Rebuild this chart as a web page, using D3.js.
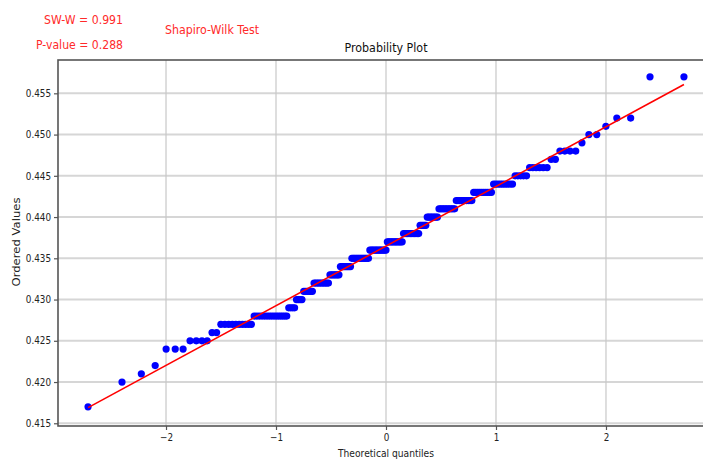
<!DOCTYPE html>
<html><head><meta charset="utf-8">
<script src="https://cdn.jsdelivr.net/npm/d3@7"></script>
<style>
body{margin:0;background:#fff}
svg{display:block}
text{font-family:"DejaVu Sans",sans-serif}
</style>
</head><body>
<svg id="c" width="703" height="460"></svg>
<script>
// ---- data ----
const levels = [0.417,0.420,0.421,0.422,0.424,0.425,0.426,0.427,0.428,0.429,0.430,0.431,0.432,0.433,0.434,0.435,0.436,0.437,0.438,0.439,0.440,0.441,0.442,0.443,0.444,0.445,0.446,0.447,0.448,0.449,0.450,0.451,0.452,0.457];
const counts = [1,1,1,1,3,4,2,10,15,4,4,6,10,7,8,13,13,12,12,5,8,11,10,10,9,5,6,2,4,1,2,1,2,2];
const xTicks = [-2,-1,0,1,2];
const yTicks = [0.415,0.420,0.425,0.430,0.435,0.440,0.445,0.450,0.455];
const statLines = ["SW-W = 0.991","P-value = 0.288"];
const testName = "Shapiro-Wilk Test";
const titleText = "Probability Plot";
const xLabel = "Theoretical quantiles";
const yLabel = "Ordered Values";

// ---- ordered values ----
const ordered = [];
levels.forEach((v,i)=>{ for(let k=0;k<counts[i];k++) ordered.push(v); });
const n = ordered.length;

// inverse normal CDF (Acklam)
function norminv(p){
  const a=[-3.969683028665376e+01,2.209460984245205e+02,-2.759285104469687e+02,1.383577518672690e+02,-3.066479806614716e+01,2.506628277459239e+00];
  const b=[-5.447609879822406e+01,1.615858368580409e+02,-1.556989798598866e+02,6.680131188771972e+01,-1.328068155288572e+01];
  const c=[-7.784894002430293e-03,-3.223964580411365e-01,-2.400758277161838e+00,-2.549671010482305e+00,4.374664141464968e+00,2.938163982698783e+00];
  const d=[7.784695709041462e-03,3.224671290700398e-01,2.445134137142996e+00,3.754408661907416e+00];
  const pl=0.02425;
  let q,r;
  if(p<pl){q=Math.sqrt(-2*Math.log(p));return (((((c[0]*q+c[1])*q+c[2])*q+c[3])*q+c[4])*q+c[5])/((((d[0]*q+d[1])*q+d[2])*q+d[3])*q+1);}
  if(p>1-pl){q=Math.sqrt(-2*Math.log(1-p));return -(((((c[0]*q+c[1])*q+c[2])*q+c[3])*q+c[4])*q+c[5])/((((d[0]*q+d[1])*q+d[2])*q+d[3])*q+1);}
  q=p-0.5;r=q*q;
  return (((((a[0]*r+a[1])*r+a[2])*r+a[3])*r+a[4])*r+a[5])*q/(((((b[0]*r+b[1])*r+b[2])*r+b[3])*r+b[4])*r+1);
}
// Filliben order statistic medians (as in scipy probplot)
const med = new Array(n);
med[n-1] = Math.pow(0.5,1/n);
med[0] = 1-med[n-1];
for(let i=2;i<n;i++) med[i-1]=(i-0.3175)/(n+0.365);
const pts = ordered.map((v,i)=>({q:norminv(med[i]), v}));

// least squares fit
const mx = d3.mean(pts,d=>d.q), my = d3.mean(pts,d=>d.v);
const slope = d3.sum(pts,d=>(d.q-mx)*(d.v-my))/d3.sum(pts,d=>(d.q-mx)*(d.q-mx));
const intercept = my - slope*mx;

// ---- layout ----
const L=58, R=714, T=60, B=426;
const x = d3.scaleLinear().domain([-2.982,2.982]).range([L,R]);
const y = d3.scaleLinear().domain([0.41467,0.45904]).range([B,T]);

const svg = d3.select("#c");
svg.append("defs").append("clipPath").attr("id","pc")
  .append("rect").attr("x",L).attr("y",T).attr("width",R-L).attr("height",B-T);

// grid
const g = svg.append("g").attr("clip-path","url(#pc)");
g.selectAll("line.hg").data(yTicks).enter().append("line")
  .attr("x1",L).attr("x2",R).attr("y1",d=>y(d)).attr("y2",d=>y(d))
  .attr("stroke","#d6d6d6").attr("stroke-width",2);
g.selectAll("line.vg").data(xTicks).enter().append("line")
  .attr("y1",T).attr("y2",B).attr("x1",d=>x(d)).attr("x2",d=>x(d))
  .attr("stroke","#c8c8c8").attr("stroke-width",1.2);

// points
g.selectAll("circle").data(pts).enter().append("circle")
  .attr("cx",d=>x(d.q)).attr("cy",d=>y(d.v)).attr("r",3.6).attr("fill","#0000ff");

// fit line
const qmin=d3.min(pts,d=>d.q), qmax=d3.max(pts,d=>d.q);
g.append("line")
  .attr("x1",x(qmin)).attr("y1",y(slope*qmin+intercept))
  .attr("x2",x(qmax)).attr("y2",y(slope*qmax+intercept))
  .attr("stroke","#ff0000").attr("stroke-width",1.6);

// frame
svg.append("rect").attr("x",L).attr("y",T).attr("width",R-L).attr("height",B-T)
  .attr("fill","none").attr("stroke","#555").attr("stroke-width",1.6);

// axes
const yAxis = svg.append("g").attr("transform",`translate(${L},0)`)
  .call(d3.axisLeft(y).tickValues(yTicks).tickFormat(d3.format(".3f")).tickSize(4).tickPadding(3));
const xAxis = svg.append("g").attr("transform",`translate(0,${B})`)
  .call(d3.axisBottom(x).tickValues(xTicks).tickFormat(d=>d<0?"\u2212"+Math.abs(d):String(d)).tickSize(4).tickPadding(4));
[yAxis,xAxis].forEach(a=>{
  a.select(".domain").remove();
  a.selectAll(".tick line").attr("stroke","#555").attr("stroke-width",1.2);
  a.selectAll(".tick text").attr("fill","#222").style("font-size","10px").style("font-family","DejaVu Sans, sans-serif");
});

// labels
function txt(s,xx,yy,size,anchor,fill,len){
  const t=svg.append("text").attr("x",xx).attr("y",yy).attr("text-anchor",anchor)
    .attr("fill",fill).style("font-size",size+"px").text(s);
  if(len) t.attr("textLength",len).attr("lengthAdjust","spacingAndGlyphs");
  return t;
}
txt(statLines[0],123,24,13,"end","#ff2a2a",79);
txt(statLines[1],123,49,13,"end","#ff2a2a",87);
txt(testName,165,34,13,"start","#ff2a2a",94);
txt(titleText,386,52,12.5,"middle","#111",83);
txt(xLabel,386,457,10.5,"middle","#222",96);
svg.append("text").attr("transform","translate(20,242) rotate(-90)")
  .attr("text-anchor","middle").attr("fill","#222").style("font-size","10.5px")
  .attr("textLength",89).attr("lengthAdjust","spacingAndGlyphs").text(yLabel);

// squeeze tick labels slightly
svg.selectAll(".tick text").each(function(){
  const w=this.getComputedTextLength();
  this.setAttribute("textLength",w*0.88);
  this.setAttribute("lengthAdjust","spacingAndGlyphs");
});
</script>
</body></html>
